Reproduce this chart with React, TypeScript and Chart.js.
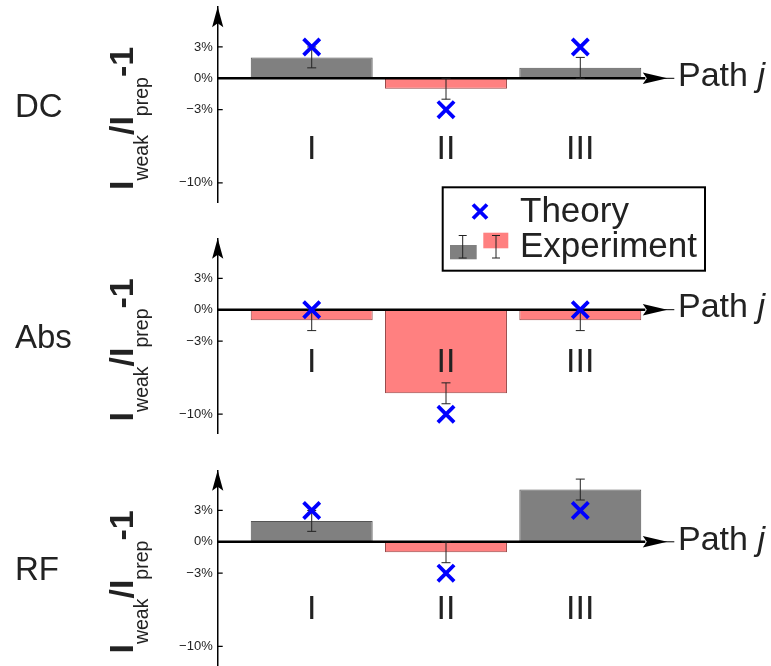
import { useEffect, useRef } from 'react';
import { Chart, registerables } from 'chart.js';

Chart.register(...registerables);

// ---------------- data ----------------
const paths = ['I', 'II', 'III'];
const pathPositions = [1, 2, 3];
const yTickValues = [3, 0, -3, -10];

const dcExperiment = [2, -1, 1];
const dcError = [1, 1, 1];
const dcTheory = [3, -3, 3];

const absExperiment = [-1, -8, -1];
const absError = [1, 1, 1];
const absTheory = [0, -10, 0];

const rfExperiment = [2, -1, 5];
const rfError = [1, 1, 1];
const rfTheory = [3, -3, 3];

const panelNames = ['DC', 'Abs', 'RF'];
const legendTheory = 'Theory';
const legendExperiment = 'Experiment';
const axisLabel = 'Path ';

// ---------------- layout / style ----------------
const W = 771;
const H = 666;
const FONT = "'Liberation Sans', Arial, Helvetica, sans-serif";
const TEXT = '#222';
const GRAY = 'rgb(128,128,128)';
const GRAY_BORDER = 'rgb(85,85,85)';
const RED = 'rgb(255,128,128)';
const RED_BORDER = 'rgb(150,70,70)';
const BLUE = '#0000ff';

const PX_PER_PCT = 10.45;
const Y_MAX = 6.8;
const Y_MIN = -11.85;
const AXIS_X = 217.7;
const AXIS_RIGHT = 674.3;
const X_MIN = 0.3;
const X_MAX = 3.7;
const YAXIS_W = 60;

type Panel = {
  name: string;
  exp: number[];
  err: number[];
  theory: number[];
  zeroY: number;
  labelDrop: number;
  legend: boolean;
};

const panels: Panel[] = [
  { name: panelNames[0], exp: dcExperiment, err: dcError, theory: dcTheory, zeroY: 78.3, labelDrop: 80.4, legend: false },
  { name: panelNames[1], exp: absExperiment, err: absError, theory: absTheory, zeroY: 309.7, labelDrop: 62, legend: true },
  { name: panelNames[2], exp: rfExperiment, err: rfError, theory: rfTheory, zeroY: 541.8, labelDrop: 77.5, legend: false },
];

function fmtTick(v: number) {
  return (v < 0 ? '\u2212' + Math.abs(v) : String(v)) + '%';
}

function drawErrorBar(ctx: CanvasRenderingContext2D, x: number, yTop: number, yBot: number, cap: number) {
  ctx.beginPath();
  ctx.moveTo(x, yTop);
  ctx.lineTo(x, yBot);
  ctx.moveTo(x - cap, yTop);
  ctx.lineTo(x + cap, yTop);
  ctx.moveTo(x - cap, yBot);
  ctx.lineTo(x + cap, yBot);
  ctx.stroke();
}

function drawCross(ctx: CanvasRenderingContext2D, x: number, y: number, r: number) {
  ctx.save();
  ctx.strokeStyle = BLUE;
  ctx.lineWidth = 3.8;
  ctx.beginPath();
  ctx.moveTo(x - r, y - r);
  ctx.lineTo(x + r, y + r);
  ctx.moveTo(x + r, y - r);
  ctx.lineTo(x - r, y + r);
  ctx.stroke();
  ctx.restore();
}

function drawYTitle(ctx: CanvasRenderingContext2D, xBase: number, yStart: number) {
  ctx.save();
  ctx.translate(xBase, yStart);
  ctx.rotate(-Math.PI / 2);
  ctx.fillStyle = TEXT;
  ctx.textAlign = 'left';
  ctx.textBaseline = 'alphabetic';
  const big = `bold 34px ${FONT}`;
  const sub = `19.5px ${FONT}`;
  const parts: [string, string, number][] = [
    ['I', big, 0],
    ['weak', sub, 15],
    ['/', big, 0],
    ['I', big, 0],
    ['prep', sub, 15],
    ['-1', big, 0],
  ];
  let x = 0;
  for (const [t, f, dy] of parts) {
    ctx.font = f;
    ctx.fillText(t, x, dy);
    x += ctx.measureText(t).width;
  }
  ctx.restore();
}

function drawLegend(ctx: CanvasRenderingContext2D) {
  ctx.save();
  ctx.fillStyle = '#fff';
  ctx.fillRect(442.7, 187.3, 262.3, 83.4);
  ctx.strokeStyle = '#000';
  ctx.lineWidth = 2;
  ctx.strokeRect(442.7, 187.3, 262.3, 83.4);

  drawCross(ctx, 480, 211.5, 7);

  ctx.fillStyle = GRAY;
  ctx.fillRect(450, 245, 26.7, 14.3);
  ctx.fillStyle = RED;
  ctx.fillRect(483.3, 232.7, 25, 15.6);
  ctx.strokeStyle = TEXT;
  ctx.lineWidth = 1;
  drawErrorBar(ctx, 462.7, 235.5, 258, 4);
  drawErrorBar(ctx, 496, 235.5, 258, 4);

  ctx.fillStyle = TEXT;
  ctx.font = `35px ${FONT}`;
  ctx.textAlign = 'left';
  ctx.textBaseline = 'alphabetic';
  ctx.fillText(legendTheory, 520, 221.7);
  ctx.fillText(legendExperiment, 520, 256.7);
  ctx.restore();
}

function makePlugin(panel: Panel) {
  return {
    id: 'panelDecor',
    afterDatasetDraw(chart: any, args: any) {
      if (args.index !== 0) return;
      const ctx: CanvasRenderingContext2D = chart.ctx;
      const xs = chart.scales.x;
      const ys = chart.scales.y;
      const { left, right } = chart.chartArea;
      const y0 = ys.getPixelForValue(0);
      ctx.save();
      // horizontal axis with arrow
      ctx.strokeStyle = '#000';
      ctx.lineWidth = 2.6;
      ctx.beginPath();
      ctx.moveTo(left, y0);
      ctx.lineTo(right - 29, y0);
      ctx.stroke();
      ctx.lineWidth = 1;
      ctx.beginPath();
      ctx.moveTo(right - 12, y0);
      ctx.lineTo(right, y0);
      ctx.stroke();
      ctx.fillStyle = '#000';
      ctx.beginPath();
      ctx.moveTo(right - 31.5, y0 - 5.8);
      ctx.lineTo(right - 7, y0);
      ctx.lineTo(right - 31.5, y0 + 5.8);
      ctx.lineTo(right - 27.5, y0);
      ctx.closePath();
      ctx.fill();
      // error bars
      ctx.strokeStyle = TEXT;
      ctx.lineWidth = 1;
      panel.exp.forEach((v, i) => {
        const x = xs.getPixelForValue(pathPositions[i]);
        drawErrorBar(ctx, x, ys.getPixelForValue(v + panel.err[i]), ys.getPixelForValue(v - panel.err[i]), 4.5);
      });
      ctx.restore();
    },
    afterDraw(chart: any) {
      const ctx: CanvasRenderingContext2D = chart.ctx;
      const xs = chart.scales.x;
      const ys = chart.scales.y;
      const { left, top } = chart.chartArea;
      const y0 = ys.getPixelForValue(0);
      ctx.save();
      // vertical arrow head
      ctx.fillStyle = '#000';
      ctx.beginPath();
      ctx.moveTo(left, top - 0.5);
      ctx.lineTo(left + 5.6, top + 20);
      ctx.lineTo(left, top + 16);
      ctx.lineTo(left - 5.6, top + 20);
      ctx.closePath();
      ctx.fill();
      // inward tick marks
      ctx.strokeStyle = '#000';
      ctx.lineWidth = 1.2;
      ctx.beginPath();
      yTickValues.forEach((v) => {
        const y = ys.getPixelForValue(v);
        ctx.moveTo(left, y);
        ctx.lineTo(left + 5, y);
      });
      ctx.stroke();

      ctx.fillStyle = TEXT;
      ctx.textBaseline = 'alphabetic';
      // category labels
      ctx.font = `34px ${FONT}`;
      ctx.textAlign = 'center';
      paths.forEach((p, i) => {
        ctx.fillText(p, xs.getPixelForValue(pathPositions[i]), y0 + panel.labelDrop);
      });
      // "Path j"
      ctx.textAlign = 'left';
      ctx.font = `34px ${FONT}`;
      ctx.fillText(axisLabel, 678, y0 + 7.7);
      const w = ctx.measureText(axisLabel).width;
      ctx.font = `italic 34px ${FONT}`;
      ctx.fillText('j', 678 + w, y0 + 7.7);
      // panel name
      ctx.font = `33px ${FONT}`;
      ctx.fillText(panel.name, 15, y0 + 38.5);
      // y title
      drawYTitle(ctx, 133, y0 + 111.7);
      ctx.restore();
      if (panel.legend) drawLegend(ctx);
    },
  };
}

function PanelChart({ panel }: { panel: Panel }) {
  const ref = useRef<HTMLCanvasElement | null>(null);
  useEffect(() => {
    if (!ref.current) return;
    const top = panel.zeroY - Y_MAX * PX_PER_PCT;
    const bottom = panel.zeroY - Y_MIN * PX_PER_PCT;
    const chart = new Chart(ref.current, {
      type: 'bar',
      data: {
        datasets: [
          {
            type: 'bar',
            data: pathPositions.map((x, i) => ({ x, y: panel.exp[i] })),
            backgroundColor: panel.exp.map((v) => (v >= 0 ? GRAY : RED)),
            borderColor: panel.exp.map((v) => (v >= 0 ? GRAY_BORDER : RED_BORDER)),
            borderWidth: 1,
            barPercentage: 0.908,
            categoryPercentage: 1,
            order: 1,
          } as any,
          {
            type: 'scatter',
            data: pathPositions.map((x, i) => ({ x, y: panel.theory[i] })),
            pointStyle: 'crossRot',
            pointRadius: 11.5,
            pointBorderWidth: 3.8,
            borderColor: BLUE,
            backgroundColor: BLUE,
            order: 0,
          } as any,
        ],
      },
      options: {
        responsive: false,
        animation: false,
        events: [],
        layout: {
          autoPadding: false,
          padding: {
            left: AXIS_X - YAXIS_W,
            right: W - AXIS_RIGHT,
            top,
            bottom: H - bottom,
          },
        },
        plugins: {
          legend: { display: false },
          tooltip: { enabled: false },
        },
        scales: {
          x: {
            type: 'linear',
            min: X_MIN,
            max: X_MAX,
            offset: false,
            display: false,
            afterBuildTicks: (a: any) => {
              a.ticks = pathPositions.map((v) => ({ value: v }));
            },
          },
          y: {
            type: 'linear',
            position: 'left',
            min: Y_MIN,
            max: Y_MAX,
            afterBuildTicks: (a: any) => {
              a.ticks = yTickValues.map((v) => ({ value: v }));
            },
            afterFit: (a: any) => {
              a.width = YAXIS_W;
              a.paddingTop = 0;
              a.paddingBottom = 0;
            },
            grid: { display: false, drawTicks: false },
            border: { display: true, color: '#000', width: 1.5 },
            ticks: {
              autoSkip: false,
              padding: 5,
              color: TEXT,
              font: { family: FONT, size: 13 },
              callback: (v: any) => fmtTick(Number(v)),
            },
          },
        },
      } as any,
      plugins: [makePlugin(panel)],
    });
    return () => chart.destroy();
  }, [panel]);
  return (
    <canvas
      ref={ref}
      width={W}
      height={H}
      style={{ position: 'absolute', left: 0, top: 0, width: W, height: H, display: 'block' }}
    />
  );
}

export default function App() {
  return (
    <div style={{ position: 'absolute', left: 0, top: 0, width: W, height: H, background: '#fff' }}>
      {panels.map((p) => (
        <PanelChart key={p.name} panel={p} />
      ))}
    </div>
  );
}
